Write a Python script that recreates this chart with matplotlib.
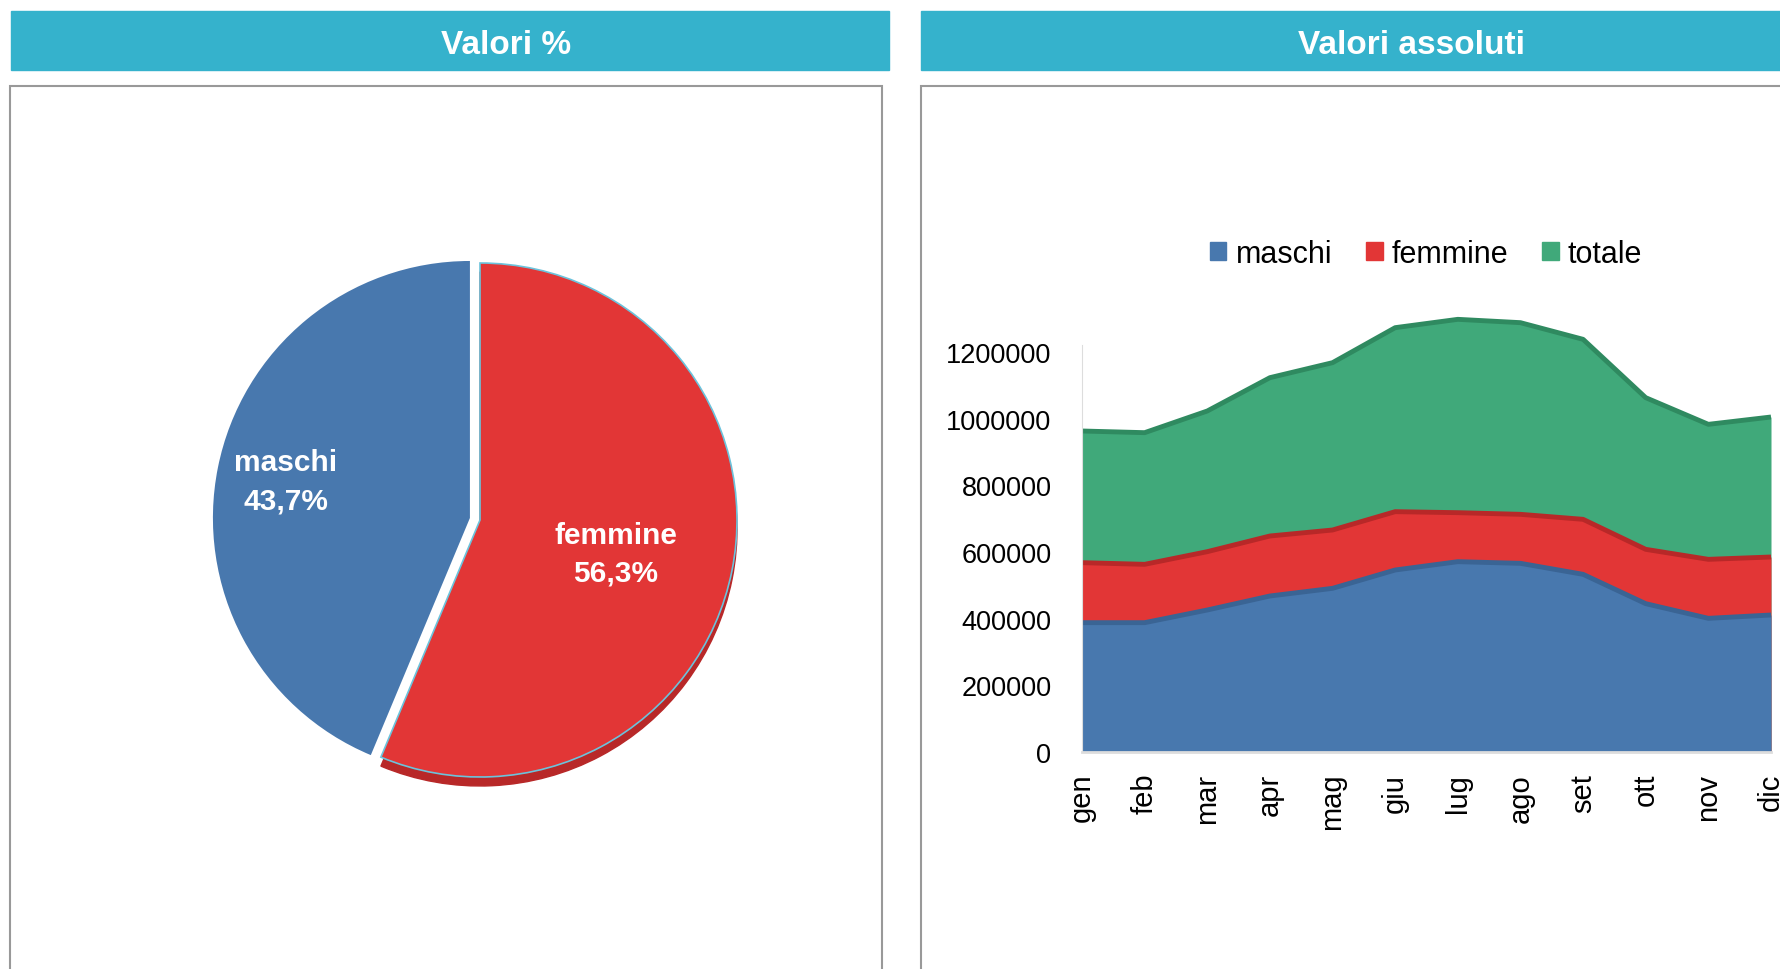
import numpy as np
import matplotlib.pyplot as plt
from matplotlib.patches import Rectangle, Patch, Wedge

plt.rcParams['font.family'] = ['Liberation Sans', 'DejaVu Sans']

# data
mesi = ['gen', 'feb', 'mar', 'apr', 'mag', 'giu', 'lug', 'ago', 'set', 'ott', 'nov', 'dic']
maschi = [388000, 388000, 426000, 468000, 491000, 546000, 571000, 566000, 533000, 445000, 401000, 411000]
femmine = [568000, 563000, 601000, 648000, 666000, 721000, 718000, 713000, 698000, 608000, 578000, 585000]
totale = [963000, 958000, 1023000, 1123000, 1168000, 1273000, 1298000, 1288000, 1238000, 1063000, 983000, 1005000]
pie_labels = ['maschi', 'femmine']
pie_values = [43.7, 56.3]
yticks = [0, 200000, 400000, 600000, 800000, 1000000, 1200000]

W, H = 1780, 970
BLUE = '#4878AE'
RED = '#E23636'
GREEN = '#40A97A'
HEAD = '#35B2CC'


def box(x0, y0, x1, y1):
    # pixel box (top-left origin) -> figure fraction rect
    return [x0 / W, 1 - y1 / H, (x1 - x0) / W, (y1 - y0) / H]


fig = plt.figure(figsize=(W / 100, H / 100), dpi=100)

# header bars and panel frames
for (x0, x1, tx, title) in [(11, 889, 506, 'Valori %'), (921, 1780, 1412, 'Valori assoluti')]:
    fig.patches.append(Rectangle((x0 / W, 1 - 71 / H), (x1 - x0) / W, 59 / H,
                                 transform=fig.transFigure, color=HEAD, zorder=0))
    fig.text(tx / W, 1 - 46 / H, title, color='white', fontsize=24, fontweight='bold',
             ha='center', va='center')
fig.patches.append(Rectangle((10 / W, -0.02), 872 / W, 1 - 87 / H + 0.02, transform=fig.transFigure,
                             fill=False, edgecolor='#999999', lw=1.5))
fig.patches.append(Rectangle((921 / W, -0.02), 1.0, 1 - 87 / H + 0.02, transform=fig.transFigure,
                             fill=False, edgecolor='#999999', lw=1.5))

# pie
cx, cy, r = 480, 521, 257
half = r * 1.2
ax1 = fig.add_axes(box(cx - half, cy - half, cx + half, cy + half))
ax1.set_aspect('equal')
ax1.axis('off')

start = 90
angles = []
for v in pie_values:
    angles.append((start, start + v * 3.6))
    start += v * 3.6

# 3D rim under the femmine slice
a0, a1 = angles[1]
ax1.add_patch(Wedge((0, -0.035), 1.0, a0, a1, color='#B82828', zorder=1))
wedges, _ = ax1.pie(pie_values, colors=[BLUE, RED], startangle=90, explode=[0.04, 0],
                    radius=1.0, wedgeprops=dict(linewidth=0))
wedges[1].set_edgecolor('#6CC3DC')
wedges[1].set_linewidth(1.2)
wedges[1].set_zorder(2)
wedges[0].set_zorder(2)
ax1.set_xlim(-1.2, 1.2)
ax1.set_ylim(-1.2, 1.2)

label_r = [0.77, 0.54]
label_dy = [0.0, -0.025]
for (a0, a1), lab, v, lr, dy in zip(angles, pie_labels, pie_values, label_r, label_dy):
    mid = np.deg2rad((a0 + a1) / 2)
    txt = f'{lab}\n{v:.1f}%'.replace('.', ',')
    ax1.text(lr * np.cos(mid), lr * np.sin(mid) + dy, txt, color='white', fontsize=21.5,
             fontweight='bold', ha='center', va='center', linespacing=1.45, zorder=5)

# area chart
ax2 = fig.add_axes(box(1082, 300, 1771, 753))
x = np.arange(len(mesi))
ymax = 1200000 * (753 - 300) / (753 - 353)
for vals, col, edge in [(totale, GREEN, '#2F8A60'), (femmine, RED, '#B82828'), (maschi, BLUE, '#3A6494')]:
    ax2.fill_between(x, 0, vals, color=col, lw=0)
    ax2.plot(x, vals, color=edge, lw=3.5, solid_capstyle='butt')
ax2.set_xlim(0, 11)
ax2.set_ylim(0, ymax)
ax2.set_yticks(yticks)
ax2.set_yticklabels([str(t) for t in yticks])
ax2.set_xticks(x)
ax2.set_xticklabels(mesi, rotation=90)
ax2.tick_params(axis='y', length=0, pad=22, labelsize=19.5)
ax2.tick_params(axis='x', length=0, pad=15, labelsize=21)
for s in ['top', 'right']:
    ax2.spines[s].set_visible(False)
ax2.spines['left'].set_color('#DDDDDD')
ax2.spines['left'].set_bounds(0, 1220000)
ax2.spines['bottom'].set_color('#DDDDDD')
ax2.spines['bottom'].set_linewidth(2)

handles = [Patch(color=BLUE, label='maschi'), Patch(color=RED, label='femmine'),
           Patch(color=GREEN, label='totale')]
fig.legend(handles=handles, loc='center', bbox_to_anchor=(1426 / W, 1 - 255 / H), ncol=3,
           frameon=False, fontsize=22, handlelength=0.55, handleheight=0.55,
           handletextpad=0.3, columnspacing=1.1)

fig.savefig('out.png', dpi=100)
